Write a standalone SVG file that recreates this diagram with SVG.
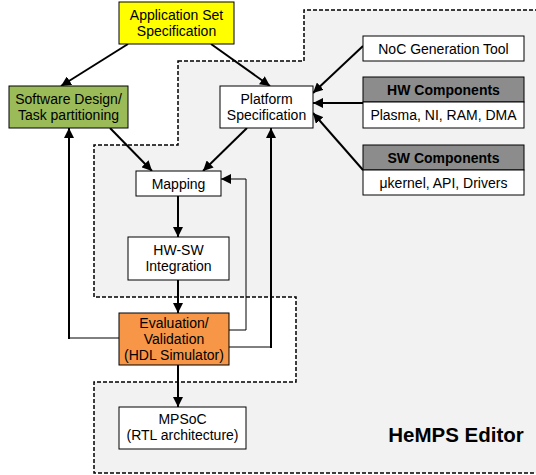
<svg xmlns="http://www.w3.org/2000/svg" width="536" height="475" viewBox="0 0 536 475">
<style>
text{font-family:"Liberation Sans",Arial,sans-serif;font-size:14px;fill:#000;text-anchor:middle}
.b{font-weight:bold}
.box{stroke:#000;stroke-width:1;fill:#fff}
.c{fill:none;stroke:#000;stroke-width:2}
.t{fill:none;stroke:#000;stroke-width:1}
</style>
<defs>
<marker id="a" viewBox="0 0 10 10" refX="10" refY="5" markerWidth="5" markerHeight="5" markerUnits="strokeWidth" orient="auto"><path d="M0,0L10,5L0,10z" fill="#000"/></marker>
<marker id="a1" viewBox="0 0 10 10" refX="10" refY="5" markerWidth="10" markerHeight="10" markerUnits="strokeWidth" orient="auto"><path d="M0,0L10,5L0,10z" fill="#000"/></marker>
</defs>
<g id="editor">
<path d="M178,61H304V10H540V473H94V382H296V297H94V145H178Z" fill="#f2f2f2" stroke="#000" stroke-width="1.5" stroke-dasharray="4,2"/>
<text x="456" y="442" class="b" style="font-size:20.5px">HeMPS Editor</text>
</g>
<g id="connectors">
<line class="c" x1="128" y1="44" x2="61" y2="86" marker-end="url(#a)"/>
<line class="c" x1="211" y1="44" x2="270" y2="86" marker-end="url(#a)"/>
<line class="c" x1="110" y1="128" x2="152" y2="171" marker-end="url(#a)"/>
<line class="c" x1="247" y1="128" x2="203" y2="171" marker-end="url(#a)"/>
<line class="c" x1="178" y1="196" x2="178" y2="237" marker-end="url(#a)"/>
<line class="c" x1="178" y1="280" x2="178" y2="313" marker-end="url(#a)"/>
<line class="c" x1="178" y1="365" x2="178" y2="407" marker-end="url(#a)"/>
<line class="c" x1="363" y1="46" x2="313" y2="93" marker-end="url(#a)"/>
<line class="c" x1="363" y1="103" x2="313" y2="103" marker-end="url(#a)"/>
<line class="c" x1="363" y1="170" x2="313" y2="113" marker-end="url(#a)"/>
<path class="t" d="M119,338H69"/>
<line class="c" x1="69" y1="339" x2="69" y2="128" marker-end="url(#a)"/>
<path class="t" d="M229,330H246V179H221" marker-end="url(#a1)"/>
<path class="t" d="M229,347H271"/>
<line class="c" x1="271" y1="348" x2="271" y2="128" marker-end="url(#a)"/>
</g>
<g id="app">
<rect class="box" x="119" y="2" width="115" height="42" fill="#ffff00" style="fill:#ffff00"/>
<text x="176.5" y="19.5">Application Set</text>
<text x="176.5" y="35.5">Specification</text>
</g>
<g id="swdesign">
<rect class="box" x="9" y="86" width="119" height="42" style="fill:#9bbb59"/>
<text x="68.5" y="103.5">Software Design/</text>
<text x="68.5" y="119.5">Task partitioning</text>
</g>
<g id="platform">
<rect class="box" x="220" y="86" width="93" height="42"/>
<text x="266.5" y="103.5">Platform</text>
<text x="266.5" y="119.5">Specification</text>
</g>
<g id="mapping">
<rect class="box" x="136" y="171" width="85" height="25"/>
<text x="178.5" y="188.5">Mapping</text>
</g>
<g id="hwsw">
<rect class="box" x="128" y="237" width="101" height="43"/>
<text x="178.5" y="254.5">HW-SW</text>
<text x="178.5" y="270.5">Integration</text>
</g>
<g id="eval">
<rect class="box" x="119" y="313" width="110" height="52" style="fill:#f79646"/>
<text x="174" y="327.5">Evaluation/</text>
<text x="174" y="343.5">Validation</text>
<text x="174" y="360">(HDL Simulator)</text>
</g>
<g id="mpsoc">
<rect class="box" x="119" y="407" width="127" height="42"/>
<text x="182.5" y="424">MPSoC</text>
<text x="182.5" y="440">(RTL architecture)</text>
</g>
<g id="noc">
<rect class="box" x="363" y="36" width="161" height="25"/>
<text x="443.5" y="53.5">NoC Generation Tool</text>
</g>
<g id="hw">
<rect class="box" x="363" y="77" width="161" height="25" style="fill:#8c8c8c"/>
<rect class="box" x="363" y="102" width="161" height="26"/>
<text x="443.5" y="94.5" class="b">HW Components</text>
<text x="443.5" y="120">Plasma, NI, RAM, DMA</text>
</g>
<g id="sw">
<rect class="box" x="363" y="145" width="161" height="25" style="fill:#8c8c8c"/>
<rect class="box" x="363" y="170" width="161" height="25"/>
<text x="443.5" y="162.5" class="b">SW Components</text>
<text x="443.5" y="187.5">μkernel, API, Drivers</text>
</g>
</svg>
